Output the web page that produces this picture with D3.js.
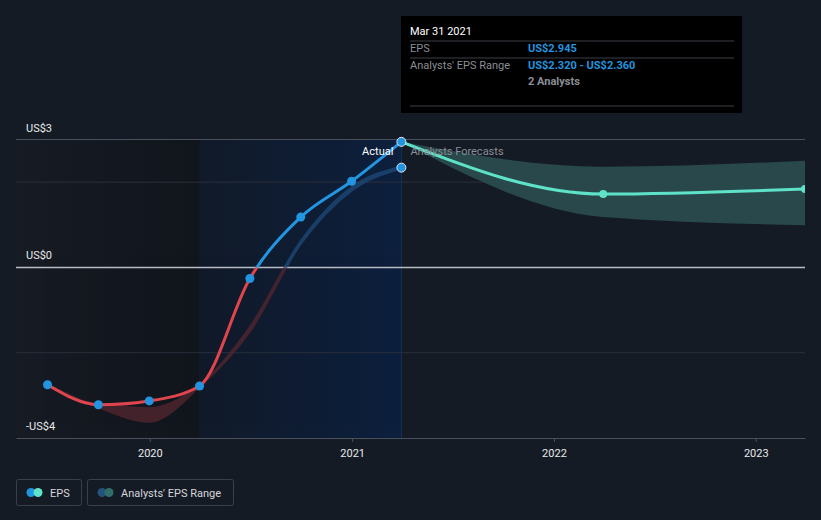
<!DOCTYPE html>
<html>
<head>
<meta charset="utf-8">
<script src="https://cdn.jsdelivr.net/npm/d3@7"></script>
<style>
  body { margin: 0; background: #151b25; font-family: Roboto, "Open Sans", sans-serif; }
</style>
</head>
<body>
<div id="chartDIV"></div>
<script>
// ---- data
var actualDates = ["2019-06-30","2019-09-30","2019-12-31","2020-03-31","2020-06-30","2020-09-30","2020-12-31","2021-03-31"]
var actualEps   = [-2.75, -3.22, -3.13, -2.78, -0.26, 1.18, 2.02, 2.945]

// past analyst range (low/high estimates for each reported quarter)
var pastRangeDates = ["2019-06-30","2019-09-30","2019-12-31","2020-03-31","2020-06-30","2020-09-30","2020-12-31","2021-03-31"]
var pastRangeLow   = [-2.75, -3.28, -3.62, -2.80, -1.50, 0.55, 1.80, 2.32]
var pastRangeHigh  = [-2.75, -3.22, -3.30, -2.76, -1.40, 0.62, 1.88, 2.36]

var forecastDates = ["2021-03-31","2022-03-31","2023-03-31"]
var forecastEps   = [2.945, 1.72, 1.84]
var forecastLow   = [2.945, 1.18, 0.99]
var forecastHigh  = [2.945, 2.36, 2.50]

var xTickYears = [2020, 2021, 2022, 2023]
var yLabels = [{v: 3, t: "US$3"}, {v: 0, t: "US$0"}, {v: -4, t: "-US$4"}]
var gridValues = [3, 2, 0, -2]

var tipTitle = "Mar 31 2021"
var tipRows = [["EPS", "US$2.945"], ["Analysts' EPS Range", "US$2.320 - US$2.360"]]
var tipNote = "2 Analysts"

// ---- sizes
// (don't name these top/left: "top" clashes with window.top)
var width = 821
var height = 520
var plotLeft = 16
var plotRight = 805
var plotTop = 139.5
var plotBottom = 438

var parse = d3.timeParse("%Y-%m-%d")

var x = d3.scaleTime()
  .domain([parse("2019-05-04"), parse("2023-03-31")])
  .range([plotLeft, plotRight])

var y = d3.scaleLinear()
  .domain([-4, 3])
  .range([plotBottom, plotTop])

var blue = "#2394df"
var red = "#e0454d"
var cyan = "#5ee3c8"

var svg = d3.select("#chartDIV").append("svg")
  .attr("width", width)
  .attr("height", height)

var defs = svg.append("defs")

// background shading: darker history, blue highlight for the last year of actuals
var g1 = defs.append("linearGradient").attr("id", "histGrad")
g1.append("stop").attr("offset", "0%").attr("stop-color", "#161b24")
g1.append("stop").attr("offset", "100%").attr("stop-color", "#11151c")

var g2 = defs.append("linearGradient").attr("id", "blueGrad")
g2.append("stop").attr("offset", "0%").attr("stop-color", "#111a29")
g2.append("stop").attr("offset", "100%").attr("stop-color", "#0c1f3d")

var xHl = x(parse("2020-03-31"))
var xNow = x(parse("2021-03-31"))

svg.append("rect")
  .attr("x", plotLeft).attr("y", plotTop)
  .attr("width", xHl - plotLeft).attr("height", plotBottom - plotTop)
  .style("fill", "url(#histGrad)")

svg.append("rect")
  .attr("x", xHl).attr("y", plotTop)
  .attr("width", xNow - xHl).attr("height", plotBottom - plotTop)
  .style("fill", "url(#blueGrad)")

svg.append("line")
  .attr("x1", xNow).attr("x2", xNow)
  .attr("y1", plotTop).attr("y2", plotBottom)
  .style("stroke", "#15305a").style("stroke-width", 1)

// gridlines
gridValues.forEach(function(v){
  svg.append("line")
    .attr("x1", plotLeft).attr("x2", plotRight)
    .attr("y1", y(v)).attr("y2", y(v))
    .style("stroke", v == 0 ? "#b9bcc2" : (v == 3 ? "#4a505b" : "#2a303b"))
    .style("stroke-width", v == 0 ? 1.5 : 1)
})

// y labels
yLabels.forEach(function(d){
  svg.append("text")
    .attr("x", 26)
    .attr("y", y(d.v) - 8)
    .style("font-size", "11px")
    .style("fill", "#e8e9eb")
    .text(d.t)
})

// x axis
var xAxis = svg.append("g")
  .attr("transform", `translate(0 ${plotBottom})`)
  .call(d3.axisBottom(x)
    .tickValues(xTickYears.map(function(yr){ return new Date(yr, 0, 1) }))
    .tickFormat(d3.timeFormat("%Y"))
    .tickSize(4)
    .tickSizeOuter(0))
xAxis.select(".domain").style("stroke", "#4a505b")
xAxis.selectAll(".tick line").style("stroke", "#4a505b")
xAxis.selectAll(".tick text")
  .attr("dy", "1.05em")
  .style("font-size", "11px")
  .style("font-family", "Roboto, sans-serif")
  .style("fill", "#e8e9eb")

// clip paths for colouring above / below zero
defs.append("clipPath").attr("id", "aboveZero")
  .append("rect").attr("x", 0).attr("y", 0).attr("width", width).attr("height", y(0))
defs.append("clipPath").attr("id", "belowZero")
  .append("rect").attr("x", 0).attr("y", y(0)).attr("width", width).attr("height", height - y(0))
defs.append("clipPath").attr("id", "plotClip")
  .append("rect").attr("x", plotLeft).attr("y", 0).attr("width", plotRight - plotLeft).attr("height", height)

var curve = d3.curveMonotoneX

// past analyst range band
var pastRange = pastRangeDates.map(function(d, i){
  return {date: parse(d), lo: pastRangeLow[i], hi: pastRangeHigh[i]}
})
var bandArea = d3.area()
  .x(function(d){ return x(d.date) })
  .y0(function(d){ return y(d.lo) })
  .y1(function(d){ return y(d.hi) })
  .curve(curve)

svg.append("path")
  .datum(pastRange)
  .attr("d", bandArea)
  .attr("clip-path", "url(#belowZero)")
  .style("fill", "#52262f")
  .style("stroke", "#52262f")
  .style("stroke-width", 2)
  .style("opacity", 0.8)

svg.append("path")
  .datum(pastRange)
  .attr("d", bandArea)
  .attr("clip-path", "url(#aboveZero)")
  .style("fill", "#1d4b7a")
  .style("stroke", "#1d4b7a")
  .style("stroke-width", 2)
  .style("opacity", 0.75)

// forecast range band
var forecast = forecastDates.map(function(d, i){
  return {date: parse(d), v: forecastEps[i], lo: forecastLow[i], hi: forecastHigh[i]}
})
svg.append("path")
  .datum(forecast)
  .attr("d", bandArea)
  .attr("clip-path", "url(#plotClip)")
  .style("fill", "#2c5052")
  .style("opacity", 0.85)

// actual EPS line, red below zero and blue above
var actual = actualDates.map(function(d, i){
  return {date: parse(d), v: actualEps[i]}
})
var epsLine = d3.line()
  .x(function(d){ return x(d.date) })
  .y(function(d){ return y(d.v) })
  .curve(curve)

svg.append("path")
  .datum(actual)
  .attr("d", epsLine)
  .attr("clip-path", "url(#belowZero)")
  .style("fill", "none")
  .style("stroke", red)
  .style("stroke-width", 3)

svg.append("path")
  .datum(actual)
  .attr("d", epsLine)
  .attr("clip-path", "url(#aboveZero)")
  .style("fill", "none")
  .style("stroke", blue)
  .style("stroke-width", 3)

// forecast line
svg.append("path")
  .datum(forecast)
  .attr("d", epsLine)
  .attr("clip-path", "url(#plotClip)")
  .style("fill", "none")
  .style("stroke", cyan)
  .style("stroke-width", 3)

// labels at the split
svg.append("text")
  .attr("x", xNow - 8).attr("y", 155)
  .attr("text-anchor", "end")
  .style("font-size", "11px")
  .style("fill", "#ffffff")
  .text("Actual")
svg.append("text")
  .attr("x", xNow + 9).attr("y", 155)
  .style("font-size", "11px")
  .style("fill", "#8a8e96")
  .text("Analysts Forecasts")

// dots
svg.selectAll(".fcDot")
  .data(forecast.slice(1))
  .enter().append("circle")
  .attr("clip-path", "url(#plotClip)")
  .attr("cx", function(d){ return x(d.date) })
  .attr("cy", function(d){ return y(d.v) })
  .attr("r", 4)
  .style("fill", cyan)

svg.selectAll(".epsDot")
  .data(actual.slice(0, -1))
  .enter().append("circle")
  .attr("cx", function(d){ return x(d.date) })
  .attr("cy", function(d){ return y(d.v) })
  .attr("r", 4.5)
  .style("fill", blue)

// highlighted points at the hovered date
var last = pastRange[pastRange.length - 1]
svg.append("circle")
  .attr("cx", x(last.date)).attr("cy", y((last.lo + last.hi) / 2))
  .attr("r", 4.5)
  .style("fill", blue).style("stroke", "#dfe8f2").style("stroke-width", 1)
var lastA = actual[actual.length - 1]
svg.append("circle")
  .attr("cx", x(lastA.date)).attr("cy", y(lastA.v))
  .attr("r", 4.5)
  .style("fill", blue).style("stroke", "#dfe8f2").style("stroke-width", 1)

// tooltip
var tip = svg.append("g").attr("transform", "translate(401 16)")
tip.append("rect")
  .attr("width", 341).attr("height", 97)
  .style("fill", "#000000")
tip.append("text")
  .attr("x", 9).attr("y", 19)
  .style("font-size", "11px").style("fill", "#ffffff")
  .text(tipTitle)
;[25, 42, 90].forEach(function(ly){
  tip.append("line")
    .attr("x1", 9).attr("x2", 333)
    .attr("y1", ly).attr("y2", ly)
    .style("stroke", "#3c3f44").style("stroke-width", 1)
})
tipRows.forEach(function(r, i){
  tip.append("text")
    .attr("x", 9).attr("y", 36 + i * 17)
    .style("font-size", "11px").style("fill", "#8a8e96")
    .text(r[0])
  tip.append("text")
    .attr("x", 127).attr("y", 36 + i * 17)
    .style("font-size", "11px").style("font-weight", "bold").style("fill", blue)
    .text(r[1])
})
tip.append("text")
  .attr("x", 127).attr("y", 69)
  .style("font-size", "11px").style("font-weight", "bold").style("fill", "#8a8e96")
  .text(tipNote)

// legend
var legendItems = [
  {label: "EPS", c1: blue, c2: cyan, x: 16, w: 65},
  {label: "Analysts' EPS Range", c1: "#24527a", c2: "#2f6e6a", x: 87, w: 146}
]
legendItems.forEach(function(d){
  var lg = svg.append("g").attr("transform", `translate(${d.x} 479)`)
  lg.append("rect")
    .attr("x", 0.5).attr("y", 0.5)
    .attr("width", d.w).attr("height", 26)
    .attr("rx", 2)
    .style("fill", "none").style("stroke", "#3a3f4a")
  lg.append("circle").attr("cx", 15).attr("cy", 13.5).attr("r", 4.5).style("fill", d.c1)
  lg.append("circle").attr("cx", 22).attr("cy", 13.5).attr("r", 4.5).style("fill", d.c2)
  lg.append("text")
    .attr("x", 34).attr("y", 17.5)
    .style("font-size", "11px").style("fill", "#d5d7db")
    .text(d.label)
})
</script>
</body>
</html>
